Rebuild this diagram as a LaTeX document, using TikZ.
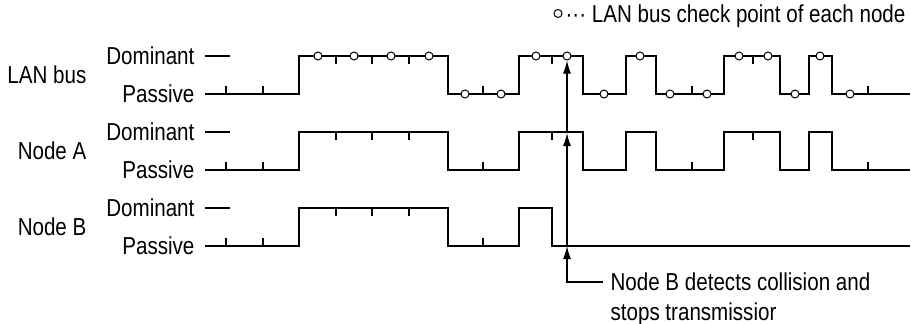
\documentclass[tikz,border=0pt]{standalone}
\usepackage{fontspec}
\setmainfont[FakeStretch=0.84]{Liberation Sans}
\usetikzlibrary{arrows.meta,positioning}

\begin{document}
\begin{tikzpicture}[x=1pt,y=-1pt,line width=1.2pt,
   every node/.style={font=\fontsize{24.5}{30}\selectfont},
   lvl/.style={anchor=east,inner sep=0pt},
   chk/.style={circle,draw,fill=white,inner sep=0pt,minimum size=8pt,line width=1pt},
   hit/.style={-{Latex[length=13pt,width=8pt]}}]
\useasboundingbox (0,0) rectangle (911,324);

% row names and levels
\foreach \nm/\txt/\y in {lan/LAN bus/56, nA/Node A/132, nB/Node B/208}{
   \node[lvl] (\nm) at (87,\y+19) {\txt};
   \node[lvl] (\nm D) at (195,\y) {Dominant};
   \node[lvl] (\nm P) at (195,\y+38) {Passive};
   \draw (205,\y) -- (230,\y);
}

% bus and node A
\foreach \y in {56,132}{
   \draw[shift={(0,\y)}] (205,38) -| (299,0) -| (448,38) -| (519,0) -| (583,38)
      -| (626,0) -| (656,38) -| (724,0) -| (780,38) -| (809,0) -| (832,38) -- (910,38);
   \foreach \x in {226,263,483,692,868} \draw[shift={(0,\y)}] (\x,38) -- ++(0,-8);
   \foreach \x in {336,372,409,552,753} \draw[shift={(0,\y)}] (\x,0) -- ++(0,8);
}

% node B
\draw[shift={(0,208)}] (205,38) -| (299,0) -| (448,38) -| (519,0) -| (552,38) -- (910,38);
\foreach \x in {226,263,483} \draw[shift={(0,208)}] (\x,38) -- ++(0,-8);
\foreach \x in {336,372,409} \draw[shift={(0,208)}] (\x,0) -- ++(0,8);

% check points
\foreach \x in {318,354,391,429,536,567,640,739,768,820} \node[chk] (c\x) at (\x,56) {};
\foreach \x in {465,501,604,670,707,795,850} \node[chk] (c\x) at (\x,94) {};

\node[anchor=base east,inner sep=0pt] (key) at (906,22)
   {\textperiodcentered\textperiodcentered\textperiodcentered\ LAN bus check point of each node};
\node[chk] (keymark) at ([shift={(-7,-8.5)}]key.base west) {};

% collision
\node[anchor=north west,align=left,inner sep=0pt] (note) at (610,272)
   {Node B detects collision and\\stops transmissior};
\coordinate (lead) at (603,282);
\coordinate (bend) at (567,282);
\coordinate (hitB) at (567,246);
\coordinate (hitA) at (567,133);
\draw[hit] (lead) -- (bend) -- (hitB);
\draw[hit] (hitB) -- (hitA);
\draw[hit] (hitA) -- (c567.south);
\end{tikzpicture}
\end{document}
